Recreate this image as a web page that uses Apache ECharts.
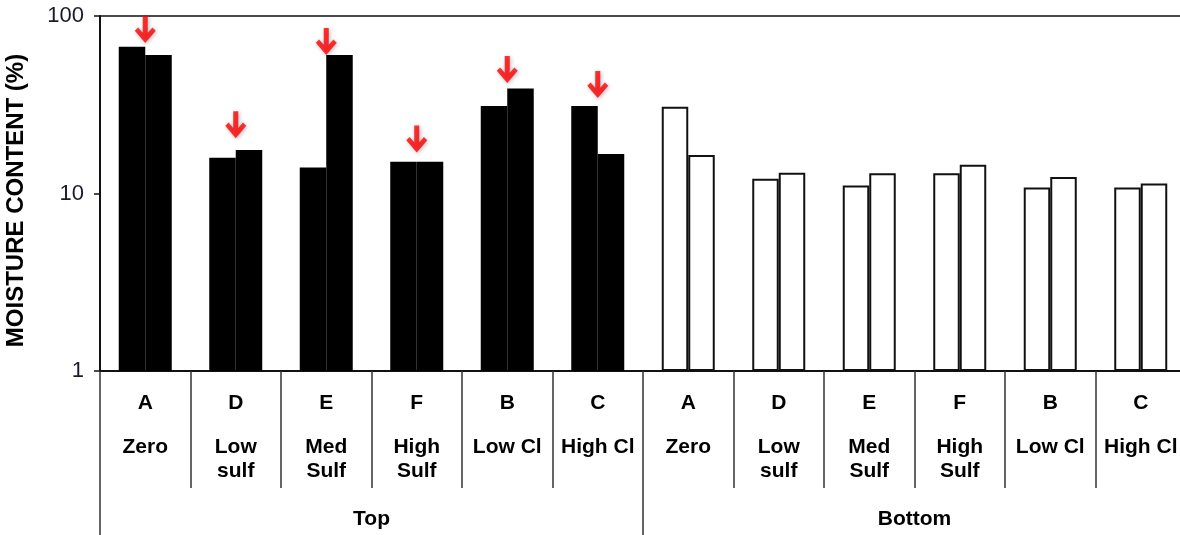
<!DOCTYPE html>
<html>
<head>
<meta charset="utf-8">
<title>Moisture content</title>
<script src="https://cdn.jsdelivr.net/npm/echarts@6/dist/echarts.min.js"></script>
<style>
  html, body { margin: 0; padding: 0; background: #ffffff; }
  #chart { width: 1180px; height: 535px; }
</style>
</head>
<body>
<div id="chart"></div>
<script>
// Treatments, in plotting order, for each sampling depth
const letters = ['A', 'D', 'E', 'F', 'B', 'C'];
const treatments = [['Zero'], ['Low', 'sulf'], ['Med', 'Sulf'], ['High', 'Sulf'], ['Low Cl'], ['High Cl']];
const groups = ['Top', 'Bottom'];

// Moisture content (%) — two measurements per treatment
const topFirst = [67.1, 15.9, 14.0, 15.1, 31.1, 31.1];
const topSecond = [60.3, 17.6, 60.3, 15.1, 39.1, 16.7];
const bottomFirst = [30.8, 12.1, 11.1, 13.0, 10.8, 10.8];
const bottomSecond = [16.5, 13.1, 13.0, 14.5, 12.4, 11.4];

// Red markers above the Top bars (value at the arrow tip)
const arrowTips = [70.5, 20.5, 60.3, 17.0, 41.9, 34.5];

const yTicks = [1, 10, 100];

const FONT = '"Liberation Sans", Arial, sans-serif';

// one category per (group, treatment)
const catKeys = [];
const catLetter = [];
const catLines = [];
groups.forEach(g => letters.forEach((l, i) => {
  catKeys.push(g + ' ' + l);
  catLetter.push(l);
  catLines.push(treatments[i]);
}));

const solid = { color: '#000000', borderColor: '#000000', borderWidth: 0 };
const hollow = { color: '#ffffff', borderColor: '#111111', borderWidth: 2 };

const firstData = topFirst.concat(bottomFirst).map((v, i) => ({ value: v, itemStyle: i < topFirst.length ? solid : hollow }));
const secondData = topSecond.concat(bottomSecond).map((v, i) => ({ value: v, itemStyle: i < topSecond.length ? solid : hollow }));
const arrowData = arrowTips.map((v, i) => [i, v]);

// thick down arrow, tip at the bottom centre
const ARROW = 'path://M7.6,0 L12.4,0 L12.4,15.5 L16.8,10.6 L20,13.6 L10,25 L0,13.6 L3.2,10.6 L7.6,15.5 Z';

const chart = echarts.init(document.getElementById('chart'), null, { renderer: 'canvas' });
chart.setOption({
  animation: false,
  backgroundColor: '#ffffff',
  grid: {
    left: 100, top: 16, width: 1086, height: 355,
    outerBoundsMode: 'none',
    containLabel: false,
    show: true, borderColor: '#111111', borderWidth: 1.5, backgroundColor: 'transparent'
  },
  xAxis: [
    {
      type: 'category',
      data: catKeys,
      position: 'bottom',
      axisLine: { show: true, lineStyle: { color: '#111111', width: 2 } },
      axisTick: { show: true, interval: 0, alignWithLabel: false, length: 117, lineStyle: { color: '#333333', width: 1.5 } },
      axisLabel: {
        interval: 0,
        margin: 0,
        formatter: (v, i) => ['{a|' + catLetter[i] + '}'].concat(catLines[i].map(t => '{b|' + t + '}')).join('\n'),
        rich: {
          a: { fontFamily: FONT, fontWeight: 'bold', fontSize: 21, color: '#000000', lineHeight: 64, align: 'center' },
          b: { fontFamily: FONT, fontWeight: 'bold', fontSize: 21, color: '#000000', lineHeight: 24, align: 'center' }
        }
      }
    },
    {
      type: 'category',
      data: groups,
      position: 'bottom',
      axisLine: { show: false },
      axisTick: { show: true, interval: 0, alignWithLabel: false, length: 170, lineStyle: { color: '#333333', width: 1.5 } },
      axisLabel: {
        interval: 0,
        margin: 136,
        fontFamily: FONT, fontWeight: 'bold', fontSize: 21, color: '#000000', lineHeight: 24
      }
    }
  ],
  yAxis: {
    type: 'log',
    logBase: 10,
    min: yTicks[0],
    max: yTicks[yTicks.length - 1],
    name: 'MOISTURE CONTENT (%)',
    nameLocation: 'middle',
    nameRotate: 90,
    nameGap: 72,
    nameTextStyle: { fontFamily: FONT, fontWeight: 'bold', fontSize: 24, color: '#000000', padding: [0, 14, 0, 0] },
    axisLine: { show: true, lineStyle: { color: '#111111', width: 2 } },
    axisTick: { show: true, length: 6, lineStyle: { color: '#111111', width: 1.5 } },
    minorTick: { show: false },
    splitLine: { show: false },
    axisLabel: { margin: 16, fontFamily: FONT, fontSize: 22, color: '#1a1a2a' }
  },
  series: [
    { name: 'first', type: 'bar', xAxisIndex: 0, barWidth: 26.5, barGap: '0%', data: firstData, z: 2 },
    { name: 'second', type: 'bar', xAxisIndex: 0, barWidth: 26.5, barGap: '0%', data: secondData, z: 2 },
    {
      name: 'marker', type: 'scatter', xAxisIndex: 0, data: arrowData, z: 5,
      symbol: ARROW, symbolSize: [21, 27], symbolOffset: [0, '-50%'],
      itemStyle: { color: '#ff0000', shadowBlur: 4, shadowColor: 'rgba(0,0,0,0.35)', shadowOffsetX: 1, shadowOffsetY: 1 }
    }
  ]
});
</script>
</body>
</html>
